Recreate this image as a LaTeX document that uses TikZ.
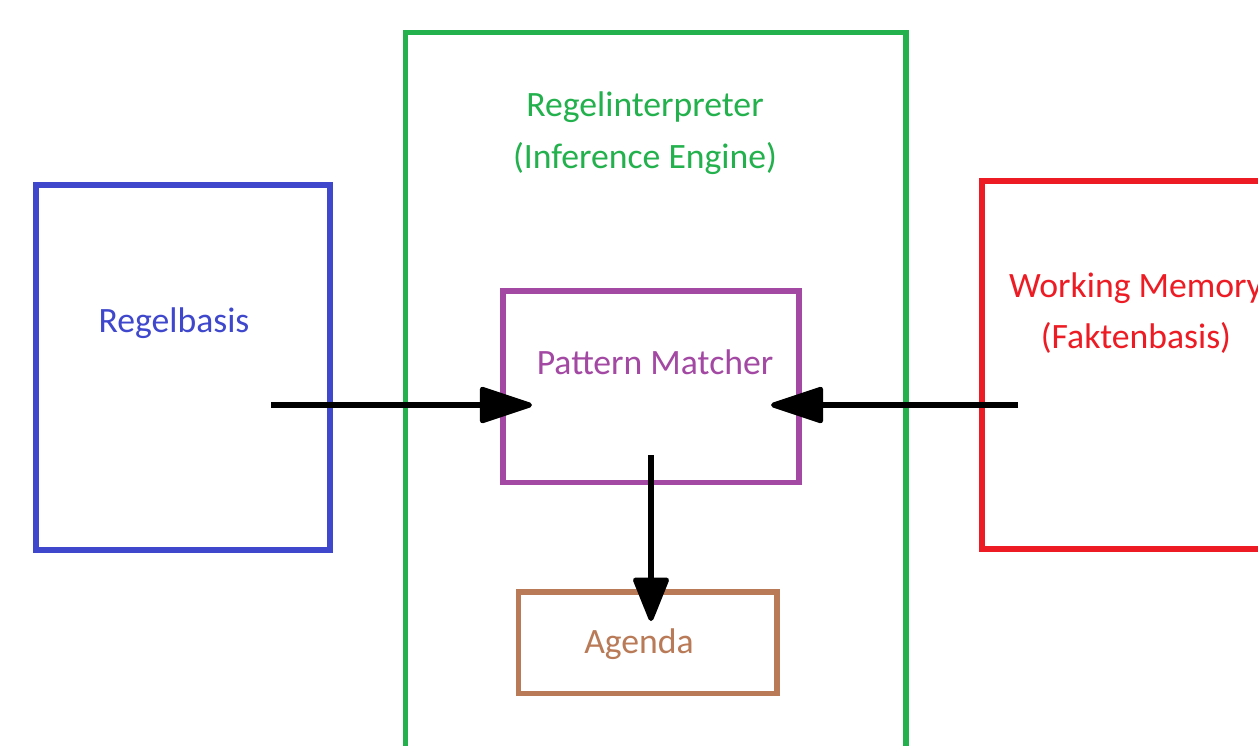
\documentclass[tikz,border=0pt]{standalone}
\usepackage{fontspec}
\setmainfont{Carlito}
\usetikzlibrary{arrows.meta}

\definecolor{rbblue}{HTML}{3F48CC}
\definecolor{rigreen}{HTML}{22B14C}
\definecolor{pmpurple}{HTML}{A349A4}
\definecolor{agbrown}{HTML}{B97A57}
\definecolor{wmred}{HTML}{ED1C24}

\tikzset{
	box/.style={draw, line width=2.9pt, inner sep=0pt},
	lbl/.style={font=\fontsize{20.3}{29.5}\selectfont, align=center, inner sep=0pt},
	arr/.style={line width=2.9pt, -{Triangle[length=1.16cm, width=0.74cm, round]}}
}

\begin{document}
\begin{tikzpicture}[x=0.02cm, y=-0.02cm]
		\clip (0,0) rectangle (1258,745);
		\fill[white] (0,0) rectangle (1258,745);

		\node[box, draw=rbblue, minimum width=5.88cm, minimum height=7.3cm] (regelbasis) at (183,367.5) {};
		\node[box, draw=rigreen, minimum width=10.02cm, minimum height=14.55cm] (interpreter) at (655.5,396.25) {};
		\node[box, draw=pmpurple, minimum width=5.92cm, minimum height=3.83cm] (matcher) at (651,386.75) {};
		\node[box, draw=agbrown, minimum width=5.17cm, minimum height=2.03cm] (agenda) at (647.75,642.75) {};
		\node[box, draw=wmred, minimum width=6.36cm, minimum height=7.36cm] (memory) at (1141,365) {};

		\node[lbl, text=rbblue] (regelbasistext) at (174,323) {Regelbasis};
		\node[lbl, text=rigreen] (interpretertext) at (645,133) {Regelinterpreter\\(Inference Engine)};
		\node[lbl, text=pmpurple] (matchertext) at (655,362) {Pattern Matcher};
		\node[lbl, text=agbrown] (agendatext) at (639,644) {Agenda};
		\node[lbl, text=wmred] (memorytext) at (1136,313) {Working Memory\\(Faktenbasis)};

		\coordinate (rbout) at (271,405);
		\coordinate (pmleft) at (532,405);
		\coordinate (wmout) at (1018,405);
		\coordinate (pmright) at (771,405);
		\coordinate (pmbottom) at (651,455);
		\coordinate (agtop) at (651,621);

		\draw[arr] (rbout) -- (pmleft);
		\draw[arr] (wmout) -- (pmright);
		\draw[arr, -{Triangle[length=0.96cm, width=0.74cm, round]}] (pmbottom) -- (agtop);
	\end{tikzpicture}
\end{document}
